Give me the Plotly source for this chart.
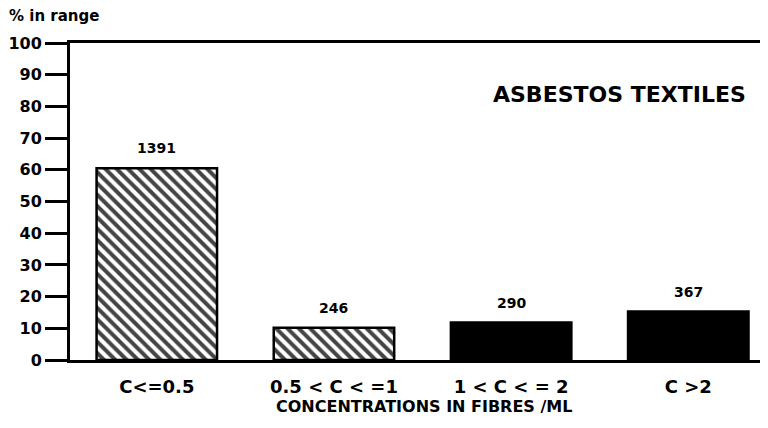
import plotly.graph_objects as go

categories = ["C<=0.5", "0.5 < C < =1", "1 < C < = 2", "C >2"]
percent_in_range = [60.5, 10.2, 11.8, 15.3]
counts = ["1391", "246", "290", "367"]
hatched = [True, True, False, False]
y_ticks = [0, 10, 20, 30, 40, 50, 60, 70, 80, 90, 100]

FONT = "DejaVu Sans"

fig = go.Figure()
fig.add_trace(go.Bar(
    x=categories,
    y=percent_in_range,
    width=0.68,
    marker=dict(
        color=["white" if h else "black" for h in hatched],
        line=dict(color="black", width=2.5),
        pattern=dict(
            shape=["\\" if h else "" for h in hatched],
            fgcolor="black",
            fgopacity=1,
            bgcolor="white",
            size=8,
            solidity=0.5,
        ),
    ),
    showlegend=False,
))

for c, v, t in zip(categories, percent_in_range, counts):
    fig.add_annotation(x=c, y=v, text=f"<b>{t}</b>", showarrow=False,
                       yanchor="bottom", yshift=10,
                       font=dict(family=FONT, size=14, color="black"))

fig.add_annotation(xref="paper", yref="paper", x=-0.09, y=1.0, yshift=16,
                   xanchor="left", yanchor="bottom", showarrow=False,
                   text="<b>% in range</b>",
                   font=dict(family=FONT, size=15, color="black"))
fig.add_annotation(xref="paper", yref="paper", x=0.971, y=0.836,
                   xanchor="right", yanchor="middle", showarrow=False,
                   text="<b>ASBESTOS TEXTILES</b>",
                   font=dict(family=FONT, size=22, color="black"))
fig.add_annotation(xref="paper", yref="paper", x=0.507, y=0, yshift=-46,
                   xanchor="center", yanchor="middle", showarrow=False,
                   text="<b>CONCENTRATIONS IN FIBRES /ML</b>",
                   font=dict(family=FONT, size=16, color="black"))

fig.update_layout(
    width=760, height=420,
    margin=dict(l=62, r=0, t=35, b=68),
    paper_bgcolor="white", plot_bgcolor="white",
    xaxis=dict(
        type="category", range=[-0.49, 3.45], automargin=False,
        showline=True, linecolor="black", linewidth=3, mirror=True,
        showgrid=False, ticks="", ticklabelstandoff=8,
        tickfont=dict(family=FONT, size=18, color="black", weight="bold"),
    ),
    yaxis=dict(
        range=[0, 100], tickvals=y_ticks, automargin=False,
        showline=True, linecolor="black", linewidth=3,
        showgrid=False, zeroline=False,
        ticks="outside", ticklen=22, tickwidth=3, tickcolor="black",
        tickfont=dict(family=FONT, size=16, color="black", weight="bold"),
    ),
)

fig.write_html("out.html")
